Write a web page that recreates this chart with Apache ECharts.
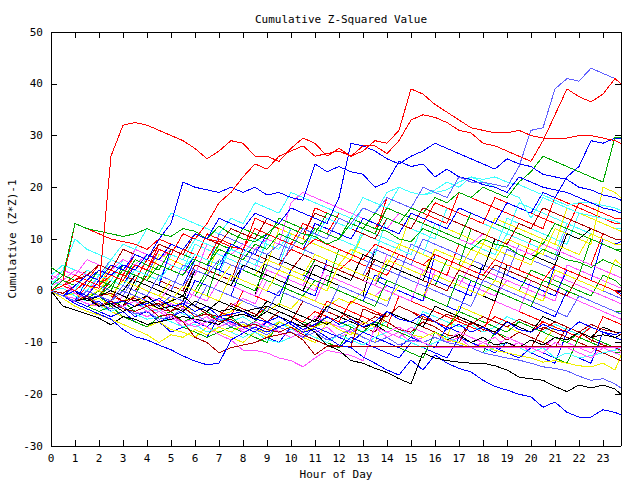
<!DOCTYPE html>
<html><head><meta charset="utf-8">
<script src="https://cdn.jsdelivr.net/npm/echarts@6/dist/echarts.min.js"></script>
<style>html,body{margin:0;padding:0;background:#fff}#c{width:640px;height:480px}#c svg path{shape-rendering:crispEdges}</style>
</head><body><div id="c"></div>
<script>
// Hour of day at which each value was sampled
const hours = [0,0.5,1,1.5,2,2.5,3,3.5,4,4.5,5,5.5,6,6.5,7,7.5,8,8.5,9,9.5,10,10.5,11,11.5,12,12.5,13,13.5,14,14.5,15,15.5,16,16.5,17,17.5,18,18.5,19,19.5,20,20.5,21,21.5,22,22.5,23,23.5,23.75];

// Cumulative (Z*Z)-1 series, one per sensor
const r1 = [0,1,2,1,0.5,26,32,32.5, 32,31,30,29,27.5,25.5,27,29, 28.5,26,26,25,27.5,29.5,28.5,26, 27.5,26,27,29,28.5,31,39,38, 36,34.5,33,31.5,31,30.5,30.5,31, 30,29.5,29.5,29.5,30,30,29.5,29, 28.5];
const r2 = [0,1,0,2,1,3,2,5, 4,8,7,11,10,13,17,19, 22,24.5,23.5,26,27,28,26,26.5, 27,26,28,28,26.5,29,33,34, 33.5,32.5,31,30.5,28.5,28,27,26, 25,29,34,39,37.5,36.5,38,41, 40];
const lb1 = [0,-1,-2,0,-1,-2,1,0, -1,3,2,1,4,3,6,5, 4,8,7,9,8,12,11,10, 14,13,16,15,18,17,16,20, 19,18,22,21,21,20.5,20,24, 31,31.5,39,41,40.5,43,42,41, 40];
const b1 = [0,-1,1,3,2,5,4,7, 6,10,13,21,20,19.5,19,20, 19,20,18.5,19,18,17.5,24.5,23, 24,23,22.5,20,21,25,24,24.5, 22,23.5,22,21.5,20.5,20,19,22, 21,20,19.5,19,18,17,16,15.5, 15];
const b2 = [0,1,0,2,4,3,5,4, 7,6,9,8,11,10,14,13, 12,15,14,13,16,15,14,13, 18,28.5,28,27,25.5,24.5,26,27, 28.5,27.5,26.5,25.5,24.5,23.5,25.5,24.5, 24,22.5,22,21.5,20,19.5,18.5,18, 17.5];
const g1 = [0,2,1,3,2,1,4,3, 2,5,4,3,6,5,8,7, 6,9,8,11,10,9,12,11, 10,13,12,15,14,13,16,15, 18,17,19,18,20,19,18,21, 23,26,25,24,23,22,21,29.7, 29.7];
const g2 = [4.5,3,13,12,11.5,11,10.5,11, 12,11,10.5,12,11.5,10,12.5,11, 10,9.5,11,13,12,11,10.5,9, 10,14,13,12,11.5,10,9.5,12, 11,10,9,8,10,9,8.5,7, 6,8,7,6,5.5,4.5,6,5, 4.5];
const r3 = [0,2,13,12,11,10,9.5,9, 8,10,9,8,11,10,9.5,8.5, 8,12,11,10,9,8,10,9, 8,7,6,9,8,7,6,5, 7,6,5,4,3,6,5,4, 3,2,5,4,3,2,1,0, -1];
const c1 = [1,4,10,8,7,6,9,8, 12,11,15,14,13,12,11,14, 13,17,16,15,19,18,17,16, 15,14,18,17,16,20,19,18.5, 19.5,21,20,22,21,20,19,18, 14,18,17,16,15,14.5,14,13.5, 13];
const c2 = [0,-1,1,0,3,2,1,4, 3,2,5,4,7,6,5,8, 7,10,9,8,12,11,10,14, 13,12,16,15,19,20,19,18.5, 19,19.5,21,22,21.5,22,21,20.5, 19.5,18.5,17.5,16.5,17,17,16.5,16, 15.5];
const k1 = [0,-1,-2,-1.5,-3,-2.5,-4,-3, -2,-3.5,-3,-4,-2,-3,-4,-3.5, -4,-3.5,-3,-4,-5,-6.5,-8,-10.5, -11.5,-13.5,-14,-15,-15.8,-17,-18,-12, -13,-13.5,-13.8,-14,-14,-14.5,-15.3,-16.7, -17,-17.3,-18.5,-19.5,-18.2,-18.8,-18.2,-19, -20];
const b3 = [0,-1,0,-1.5,-1,-2.5,-2,-3, -2.5,-1.5,-3,-2.5,-4,-3,-5,-4.5, -4,-5.5,-6,-5,-6.5,-8,-7.5,-9, -10.5,-11,-12.8,-14,-15.3,-16.3,-13.4,-15.3, -12.4,-14,-15,-15.7,-17.3,-18.5,-19.2,-20, -20.5,-22.5,-21.5,-23.5,-24.4,-24.4,-23,-23.5, -24];
const b4 = [0,-1,-2.5,-3.5,-4.5,-5.5,-7.5,-8.9, -9.5,-10.5,-11.4,-12.6,-13.6,-14.3,-14,-9.5, -8.2,-7,-8,-7,-6,-7.5,-6.5,-5, -6.5,-5.5,-7,-6,-4,-5.5,-6,-4.5, -6,-7.5,-6.5,-8,-7,-8.5,-6,-7.5, -8,-6.5,-7.5,-8,-6,-7,-8,-8.5, -8];
const dr1 = [0,-1,-2,-1,-3,-2,-3.5,-4, -3,-5,-4.5,-6,-9,-10,-12,-11, -10.5,-10,-9,-8.5,-8,-9.5,-12.4,-10.7, -10.7,-10.7,-10.7,-10.7,-10.7,-10.7,-10.7,-10.7, -10.7,-10.7,-10.7,-10.7,-10.7,-10.7,-10.7,-10.7, -10.7,-10.7,-10.7,-10.7,-10.7,-10.7,-10.7,-10.7, -10.7];
const m1 = [0,1,-0.5,-1.5,-1,-2.5,-3,-2, -4,-3.5,-5,-6,-5.5,-7,-8.5,-9.5, -11.5,-11.5,-12,-13,-13.5,-14.7,-13,-11.5, -12,-12.5,-13.5,-7,-8,-7,-8.5,-10, -10.9,-10.9,-10.9,-10.9,-10.9,-10.9,-10.9,-10.9, -10.9,-10.9,-10.9,-10.9,-10.9,-10.9,-10.9,-10.9, -10.9];
const dr2 = [0,-0.5,1,0,-1,-0.5,-2,-1.5, -3,-2.5,-4,-3,-5,-4.5,-6,-5.5, -7,-6.5,-7.5,-8,-7,-8.5,-9.5,-10.5, -10.7,-10.7,-3.5,-4.5,-5,-3,-4,-5.5, -6,-4.5,-5.5,-6.5,-5,-6,-7,-5.5, -6.5,-7.5,-6,-7,-8,-6.5,-7.5,-8, -8.5];
const lb2 = [0,-1,-2,-1,-2.5,-3.5,-3,-4.5, -4,-5.5,-5,-3.5,-4.5,-6,-5.5,-7, -6,-7.5,-8.5,-7,-8,-9,-8,-9.5, -8.5,-7.5,-9,-10,-9,-10.5,-9.5,-10, -9,-10,-10.5,-11,-12,-12.5,-13,-13.4, -14,-14.7,-15,-15.5,-16.5,-17.3,-17,-18, -18.8];
const y1 = [0,-1.5,-3,-4,-4.7,-5.5,-6.5,-7.5, -8.5,-10,-8.5,-9,-7.5,-8.5,-7,-8, -6.5,-7.5,-8,-6,-7,-8,-7,-6, -7.5,-8.5,-6,-7,-8,-7,-8.5,-9, -8,-9.5,-10,-11,-10.5,-11.5,-12,-12.5, -13,-13.8,-13.5,-14,-14.5,-14.7,-14,-15.3, -12.5];
const k2 = [0,-3,-3.7,-4.5,-5.3,-6.6,-5,-5.5, -6.5,-6,-5.5,-5,-5.5,-6,-6.5,-5, -4.5,-5.5,-4,-5,-6,-7,-5.5,-6.5, -5,-6,-7,-6.5,-8,-7,-8.5,-9, -8,-9.5,-8.5,-10,-9,-10.5,-10,-11, -9.5,-10.5,-9,-9.5,-8,-9,-8.5,-9, -8.5];
const g3 = [0,1,-0.5,-1.5,0,2,1,0, -1,3,2,1,0,4,3,2, 1,0,5,4,3,2,6,5, 4,3,2,1,5,4,3,2, 1,6,5,4,3,2,1,0, 4,3,2,1,0,-1,3,2, 1];
const m2 = [1,2,0,-1,3,2,1,0, -1,-2,1,0,-1,-2,2,1, 0,-1,4,3,2,1,0,5, 4,3,2,1,7,6,5,4, 3,2,1,5,4,3,2,1, 0,-1,3,2,1,0,-1,-2, -2.5];
const b5 = [0,-1,-2,2,1,0,-1,3, 2,1,8,7,6,5,4,9, 8,7,6,5,4,3,7,6, 5,4,3,2,6,5,4,3, 2,1,0,-1,5,4,3,2, 1,0,-1,4,3,2,10,9, 9.5];
const y2 = [0,-1,-0.5,-2,-1.5,-3,-2,-1, -2.5,-3.5,-2,-3,-4,-3,-5,-4, -2,-3,-4,-2.5,-3.5,-1,-2,-3, -1.5,-2.5,0,-1,-2,1,0,-1, 3,2,1,0,-1,2,1,0, -1,-2,4,3,2,1,0,6, 5];
const c3 = [0,0.5,-1,-2,-1,-2.5,-3,-2, -3.5,-4,-3,-4.5,-5,-4,-5.5,-6, -5,-6.5,-7,-6,-7.5,-8,-5,-6, -7,-6.5,-8,-7,-6,-7.5,-8.5,-4, -5,-6,-7,-6.5,-8,-7,-5,-6, -7,-8,-6.5,-7.5,-8.5,-7,-8,-9, -9.5];
const r4 = [0,1,3,2,1,4,3,2, 6,5,4,8,7,6,5,9, 8,7,6,5,8,7,6,5, 4,6,5,4,3,7,6,5, 4,3,9,8,7,6,5,4, 10,9,8,7,6,5,11,10, 10];
const dr3 = [0,-0.5,1,0,-1,2,1,0, 3,2,1,0,5,4,3,2, 8,7,6,5,4,7,6,5, 4,3,2,6,5,4,3,2, 1,0,4,3,2,5,4,3, 2,1,0,-1,3,2,1,0, 0];
const m3 = [0,-1,-2,-3,-2,-4,-3,-5, -4,-6,-5,-7,-6,-5,-7,-6, -8,-7,-6,-8,-7,-9,-8,-7, -9,-8,-6,-7,-9,-8,-10,-9, -8,-10,-9,-11,-10,-9,-11,-10, -12,-11,-9,-10,-11,-12,-10,-11, -12];
const b6 = [0,2,1,0,3,2,1,5, 4,3,2,1,6,5,4,3, 2,1,0,-1,4,3,2,1, 0,-1,-2,3,2,1,0,-1, -2,-3,-4,2,1,0,-1,-2, -3,-4,-5,0,-1,-2,-3,-4, -4.5];
const g4 = [0,-1,0,-2,-1,-3,-2,-4, -3,-5,-4,-6,-5,-4,-6,-5, -7,-6,-3,-4,-5,-6,-7,-5, -6,-7,-8,-6,-7,-8,-9,-5, -6,-7,-4,-5,-6,-7,-8,-6, -7,-8,-9,-10,-8,-9,-10,-11, -11.5];
const c4 = [2,1,0,4,3,2,6,5, 4,8,7,6,10,9,8,7, 6,5,9,8,12,11,10,9, 8,7,11,10,9,8,7,13, 12,11,10,9,8,7,11,10, 9,8,7,13,12,11,10,9, 9];
const r5 = [0,-1,-2,-1,-3,-2,0,-1, -2,-3,-1,-2,-3,-4,-2,-3, -4,-5,-3,-4,-5,-6,-4,-5, -6,-2,-3,-4,-5,-3,-4,-5, -6,-7,-5,-6,-7,-5,-6,-7, -8,-6,-7,-8,-9,-7,-8,-9, -9.5];
const lb3 = [0,1,0,2,1,0,-1,3, 2,1,0,5,4,3,2,1, 7,6,5,4,9,8,7,6, 5,4,3,8,7,6,5,10, 9,8,7,6,5,4,3,9, 8,7,6,12,11,10,9,8, 8];
const y3 = [0,1,2,1,0,3,2,1, 0,-1,2,1,4,3,2,5, 4,3,6,5,4,3,7,6, 5,8,7,6,5,9,8,7, 6,5,4,8,7,6,10,9, 8,7,12,11,10,9,20,19, 18];
const dr4 = [0,-1,-2,0,-1,-2.5,-3,-1, -2,-3.5,-4,-2,-3,-4.5,-5,-2.5, -3.5,-4.5,-6,-4,-5,-6.5,-7,-3, -4,-5.5,-6.5,-5,-6,-7.5,-8,-6, -7,-8.5,-9,-6,-7.5,-8,-9.5,-8, -9,-10,-11,-7,-8,-9.5,-10.5,-11, -11.5];
const k3 = [0,1,0,-1,2,1,0,3, 2,1,0,-1,4,3,2,1, 5,4,3,2,1,0,5,4, 3,2,7,6,5,4,3,2, 8,7,6,5,4,10,9,8, 7,6,5,11,10,12,11,10, 10];
const g5 = [0,2,1,0,-1,1,0,-1, 4,3,2,1,0,-1,6,5, 4,3,2,1,0,-1,2,1, 0,-1,-2,-3,2,1,0,-1, -2,-3,3,2,1,0,-1,-2, -3,2,1,0,-1,-2,-3,-4, -4];
const m4 = [3,2,4,3,5,4,6,5, 7,6,8,7,6,5,8,7, 9,8,10,9,17,19,18,17, 16,15,14,13,12,15,14,13, 12,11,10,9,11,10,9,8, 7,9,8,7,6,5,4,3, 2.5];
const b7 = [0,-1,-2,-3,-2,-4,-3,-5, -4,-6,-5,-4,-6,-7,-5,-6, -7,-8,-6,-7,-8,-9,-7,-8, -9,-10,-8,-9,-10,-11,-9,-10, -11,-7,-8,-9,-10,-11,-12,-13, -11,-12,-13,-12,-13,-14,-8,-9, -9.5];
const c5 = [0,-1,-2,-1.5,-3,-4,-3,-4.5, -5.5,-5,-6,-7,-6.5,-8,-7,-8, -9,-8,-9.5,-10,-9,-8,-9,-10, -8.5,-9.5,-10.5,-9,-8,-9,-10,-11, -10,-9,-10,-11,-12,-11,-10,-11, -12,-11,-13,-12,-13,-12.5,-12,-11.5, -11];
const r6 = [0,1,3,2,5,4,3,7, 6,5,4,8,7,6,10,9, 8,12,11,10,9,13,12,11, 15,14,13,12,16,15,14,13, 17,16,15,14,13,18,17,16, 15,14,13,12,17,16,15,14, 14];
const g6 = [1,3,2,1,4,3,2,6, 5,4,8,7,6,5,9,8, 12,11,10,14,13,12,11,15, 14,13,12,11,16,15,14,13, 12,11,10,15,14,13,12,11, 10,9,13,12,11,10,9,8, 8];
const y4 = [0,1,0,-1,0,-1,2,1, 0,-1,-2,1,0,-1,-2,3, 2,1,0,4,3,2,1,0, 5,4,3,2,6,5,4,3, 8,7,6,5,9,8,7,6, 5,10,9,8,7,11,10,9, 9];
const m5 = [0,-1,-1.5,-2.5,-3,-2,-3.5,-4, -5,-4,-5.5,-6,-7,-6,-5,-6.5, -7.5,-6,-7,-8,-9,-8,-5,-6, -7,-8,-6,-7,-8,-9,-7,-8, -9,-10,-8,-9,-10,-11,-9,-10, -11,-12,-10,-11,-12,-13,-11,-12, -12.5];
const k4 = [0,-1,0,-2,-1,0,-1,-2, -1,-3,-2,-1,-3,-4,-2,-3, -4,-5,-2,-3,-4,-5,-6,-3, -4,-5,-6,-7,-4,-5,-6,-7, -3,-4,-5,-6,-7,-8,-6,-7, -8,-5,-6,-7,-8,-9,-7,-8, -8];
const lb4 = [0,-1,1,0,-1,-2,0,-1, -2,-3,-1,-2,-3,1,0,-1, -2,-3,-4,0,-1,-2,-3,-4, 1,0,-1,-2,-3,3,2,1, 0,-1,-2,-3,2,1,0,-1, -2,-3,-4,-5,-1,-2,-3,-4, -4.5];
const dr5 = [0,1,2,3,5,4,8,7, 6,9,8,7,11,10,9,12, 11,10,14,13,12,11,15,14, 13,12,11,10,14,13,12,16, 15,14,13,12,11,10,9,13, 12,16,15,14,13,12,11,10, 10];
const b8 = [0,1,0,-1,2,1,4,3, 2,5,4,3,7,6,5,9, 8,7,11,10,9,8,13,12, 11,10,14,13,12,11,15,14, 13,12,16,15,14,13,17,16, 15,19,18,22,24,29,28.5,29.5, 29.5];
const m6 = [0,-1,-2.2,-1,-2.8,-3.5,-1,-2, -3,-4,-2.5,-3.5,0,-1,-2,-3, -1.5,-2.5,2,1,0,-1,-2,3, 2,1,0,-1,1,0,-1,-2, 4,3,2,1,0,-1,2,1, 0,-1,-2,5,4,3,2,1, 0.5];
const g7 = [0,1,3,2,1,0,5,4, 3,2,1,0,-1,3,2,1, 0,-1,-2,-3,4,3,2,1, 8,7,6,5,4,3,9,8, 7,6,5,12,11,10,9,8, 7,6,5,4,3,10,9,8, 7.5];
const b9 = [0,-1,-2,-3,-4,-5,-4,-6, -7,-6,-8,-7,-8,-9,-5,-6, -7,-8,-9,-10,-7,-8,-9,-10, -11,-9,-10,-11,-12,-13,-10,-11, -12,-13,-9,-10,-11,-12,-10,-11, -12,-13,-14,-8,-9,-10,-11,-12, -12.5];
const c6 = [0,2,1,0,-1,3,2,1, 7,6,5,4,9,8,7,6, 5,4,10,9,8,7,12,11, 10,9,8,7,14,13,12,11, 10,16,15,14,13,12,11,17, 16,15,14,13,12,11,10,9, 9];
const r7 = [0,-1,-2,1,0,-1,-2,-3, -1,-2,-3,-4,-2,-3,-4,-5, 0,-1,-2,-3,-4,-5,-6,-2, -3,-4,-5,-6,-7,-1,-2,-3, -4,-5,-6,-7,-8,-2,-3,-4, -5,-6,-7,-8,-9,-10,-5,-6, -6.5];
const y5 = [0,-1,-2,-3,-2.5,-4,-5,-6, -7,-6,-7.5,-8,-9,-7,-8,-9, -10,-8,-9,-7,-8,-9,-10,-6, -7,-8,-9,-10,-4,-5,-6,-7, -8,-9,-3,-4,-5,-6,-7,-8, -9,-10,-7,-8,-9,-10,-11,-12, -12.5];
const dr6 = [0,2,1,0,-1,-2,3,2, 1,0,-1,-2,-3,1,0,-1, -2,-3,-4,-5,-6,-2,-3,-4, -5,-6,-7,-8,-4,-5,-6,-7, -8,-9,-10,-6,-7,-8,-9,-10, -11,-7,-8,-9,-10,-11,-12,-13, -13.5];
const lb5 = [0,1,2,4,3,6,5,4, 3,8,7,6,5,4,11,10, 9,8,7,6,12,11,10,9, 8,7,6,5,4,3,9,8, 7,6,5,4,3,2,8,7, 6,5,4,3,2,1,0,-1, -1.5];
const m7 = [2,4,3,6,5,4,3,8, 7,6,5,4,3,9,8,7, 6,5,4,3,2,1,6,5, 4,3,2,1,0,-1,-2,4, 3,2,1,0,-1,-2,-3,-4, 2,1,0,-1,-2,-3,-4,-5, -5.5];
const g8 = [0,-1,-2,-3,-4,-3,-5,-6, -7,-5,-6,-7,-8,-9,-8,-7, -8,-9,-10,-6,-7,-8,-9,-10, -11,-7,-8,-9,-10,-11,-12,-13, -8,-9,-10,-11,-12,-8,-9,-10, -11,-12,-13,-14,-9,-10,-11,-12, -12];
const r8 = [0,1,2,4,3,2,6,5, 4,9,8,7,6,11,10,9, 8,14,13,12,11,10,16,15, 14,13,12,11,18,17,16,15, 14,13,19,18,17,16,15,14, 13,12,18,17,16,15,14,13, 13];
const b10 = [0,1,2,1,0,-1,2,1, 0,-1,-2,-3,2,1,0,-1, 5,4,3,2,1,0,-1,6, 5,4,3,2,1,0,-1,-2, 7,6,5,4,3,2,1,0, -1,-2,5,4,3,2,1,0, -0.5];
const c7 = [3,5,4,3,2,6,5,4, 3,2,7,6,5,4,3,9, 8,7,6,5,11,10,9,8, 7,6,12,11,10,9,8,7, 13,12,11,10,9,8,14,13, 12,11,10,9,15,14,13,12, 12];
const k5 = [0,-1,1,0,-1,-2,-3,2, 1,0,-1,-2,4,3,2,1, 0,-1,7,6,5,4,3,2, 1,0,-1,8,7,6,5,4, 3,2,1,0,-1,-2,5,4, 3,2,1,0,-1,-2,-3,-4, -4];
const y6 = [0,1,0,2,1,5,4,3, 2,7,6,5,4,3,9,8, 7,6,5,12,11,10,9,8, 7,6,11,10,9,8,15,14, 13,12,11,10,9,14,13,12, 11,10,9,16,15,14,13,12, 11.5];

const RED='#ff0000', GRN='#00a800', BLU='#0000ff', MAG='#ff50ff', CYN='#40ffff',
      DRD='#a80000', YEL='#f0f000', BLK='#000000', LBL='#6060ff';

const defs = [
  [m6,MAG],[g7,GRN],[b9,BLU],[c6,CYN],[r7,RED],[y5,YEL],[dr6,DRD],[lb5,LBL],[m7,MAG],[g8,GRN],
  [r8,RED],[b10,BLU],[c7,CYN],[k5,BLK],[y6,YEL],
  [g3,GRN],[m2,MAG],[b5,BLU],[y2,YEL],[c3,CYN],[r4,RED],[dr3,DRD],[m3,MAG],[b6,BLU],[g4,GRN],
  [c4,CYN],[r5,RED],[lb3,LBL],[y3,YEL],[dr4,DRD],[k3,BLK],[g5,GRN],[m4,MAG],[b7,BLU],[c5,CYN],
  [r6,RED],[g6,GRN],[y4,YEL],[m5,MAG],[k4,BLK],[lb4,LBL],[dr5,DRD],[b8,BLU],
  [k2,BLK],[y1,YEL],[lb2,LBL],[dr2,DRD],[m1,MAG],[dr1,DRD],[b4,BLU],[b3,BLU],[k1,BLK],
  [c2,CYN],[c1,CYN],[r3,RED],[g2,GRN],[g1,GRN],[b2,BLU],[b1,BLU],[lb1,LBL],[r2,RED],[r1,RED]
];

const FONT = 'DejaVu Sans Mono';
const FS = 11;
const Y_NAME = 'Cumulative (Z*Z)-1';

const series = defs.map(([vals, color]) => ({
  type: 'line',
  data: vals.map((v, i) => [hours[i], v]),
  symbol: 'none',
  showSymbol: false,
  lineStyle: { width: 1, color: color },
  itemStyle: { color: color },
  silent: true,
  animation: false
}));

const axisCommon = {
  axisLine: { show: true, onZero: false, lineStyle: { color: '#000', width: 1 } },
  axisTick: { show: true, inside: true, length: 6, lineStyle: { color: '#000', width: 1 } },
  splitLine: { show: false }
};

const chart = echarts.init(document.getElementById('c'), null, { renderer: 'svg' });
chart.setOption({
  animation: false,
  backgroundColor: '#ffffff',
  title: {
    text: 'Cumulative Z-Squared Value',
    left: 336, top: 9, textAlign: 'center',
    textStyle: { fontFamily: FONT, fontSize: FS, fontWeight: 'normal', color: '#000' }
  },
  graphic: [{
    type: 'text', x: 12, y: 239, rotation: Math.PI / 2, silent: true,
    style: { text: Y_NAME, fontFamily: FONT, fontSize: FS, fill: '#000', align: 'center', verticalAlign: 'middle' }
  }],
  grid: { left: 51, right: 19, top: 32, bottom: 34, containLabel: false, outerBoundsMode: 'none' },
  xAxis: [
    Object.assign({}, axisCommon, {
      type: 'value', min: 0, max: 23.75, interval: 1, position: 'bottom',
      name: 'Hour of Day', nameLocation: 'middle', nameGap: 21,
      nameTextStyle: { fontFamily: FONT, fontSize: FS, color: '#000' },
      axisLabel: { fontFamily: FONT, fontSize: FS, color: '#000', margin: 7, showMaxLabel: false }
    }),
    Object.assign({}, axisCommon, {
      type: 'value', min: 0, max: 23.75, interval: 1, position: 'top',
      axisLabel: { show: false }
    })
  ],
  yAxis: [
    Object.assign({}, axisCommon, {
      type: 'value', min: -30, max: 50, interval: 10, position: 'left',
      axisLabel: { fontFamily: FONT, fontSize: FS, color: '#000', margin: 8 }
    }),
    Object.assign({}, axisCommon, {
      type: 'value', min: -30, max: 50, interval: 10, position: 'right',
      axisLabel: { show: false }
    })
  ],
  series: series
});
</script>
</body></html>
